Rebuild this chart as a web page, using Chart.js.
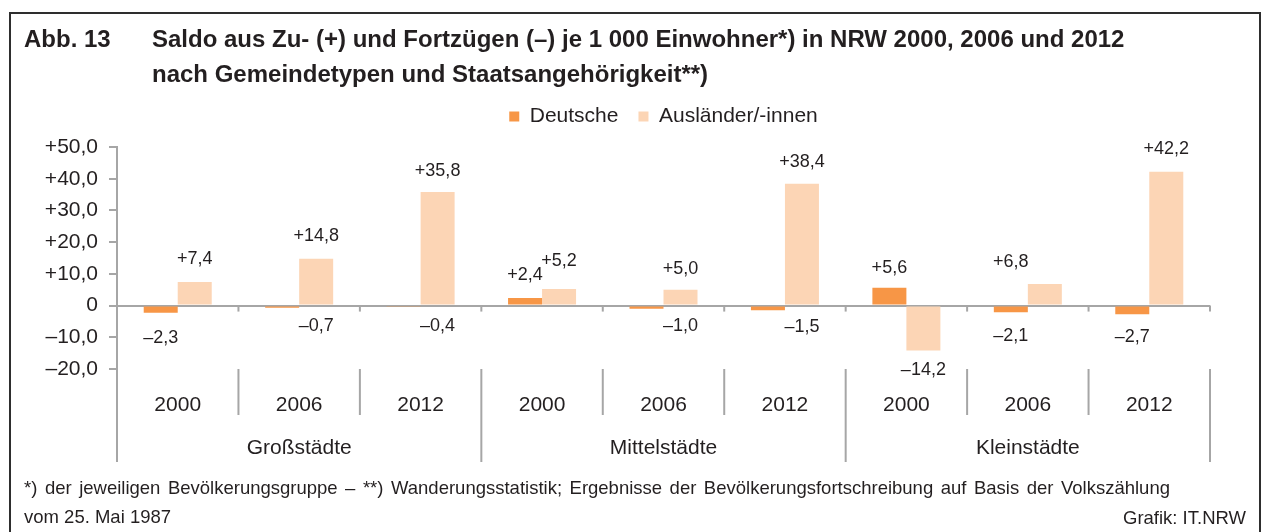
<!DOCTYPE html>
<html>
<head>
<meta charset="utf-8">
<script src="https://cdn.jsdelivr.net/npm/chart.js@4/dist/chart.umd.min.js"></script>
<style>
  html, body { margin:0; padding:0; background:#fff; }
  body { width:1266px; height:532px; position:relative; overflow:hidden; font-family:"Liberation Sans", Arial, sans-serif; color:#231f20; }
  #frame { position:absolute; left:9px; top:12px; width:1248px; height:540px; border:2px solid #2e2e2e; }
  #wrap { position:absolute; left:0; top:0; width:1266px; height:532px; }
  .title { position:absolute; top:21px; font-weight:bold; font-size:24px; line-height:35px; white-space:nowrap; }
  .foot { position:absolute; left:24px; font-size:18.5px; line-height:29px; white-space:nowrap; }
  #foot1 { top:473px; width:1146px; text-align:justify; text-align-last:justify; white-space:normal; }
  #foot2 { top:502px; }
  #src { position:absolute; right:20px; top:506px; font-size:18.5px; line-height:24px; }
</style>
</head>
<body>
<div id="frame"></div>
<div id="wrap"><canvas id="c"></canvas></div>
<div class="title" style="left:24px">Abb. 13</div>
<div class="title" style="left:152px">Saldo aus Zu- (+) und Fortzügen (–) je 1 000 Einwohner*) in NRW 2000, 2006 und 2012<br>nach Gemeindetypen und Staatsangehörigkeit**)</div>
<div class="foot" id="foot1">*) der jeweiligen Bevölkerungsgruppe – **) Wanderungsstatistik; Ergebnisse der Bevölkerungsfortschreibung auf Basis der Volkszählung</div>
<div class="foot" id="foot2">vom 25. Mai 1987</div>
<div id="src">Grafik: IT.NRW</div>
<script>
const categories = ['2000','2006','2012','2000','2006','2012','2000','2006','2012'];
const groups = ['Großstädte','Mittelstädte','Kleinstädte'];
const seriesNames = ['Deutsche','Ausländer/-innen'];
const deutsche = [-2.3, -0.7, -0.4, 2.4, -1.0, -1.5, 5.6, -2.1, -2.7];
const auslaender = [7.4, 14.8, 35.8, 5.2, 5.0, 38.4, -14.2, 6.8, 42.2];
const yTicks = [-20, -10, 0, 10, 20, 30, 40, 50];

const GREY = '#a6a6a6';
const TEXT = '#231f20';
const FONT = '"Liberation Sans", Arial, sans-serif';

function fmt(v, dec) {
  if (v === 0) return '0';
  return (v > 0 ? '+' : '–') + Math.abs(v).toFixed(dec).replace('.', ',');
}

const overlay = {
  id: 'overlay',
  afterLayout(chart, args, opts) {
    const lg = chart.legend;
    if (lg) { lg.top -= opts.legendShift; lg.bottom -= opts.legendShift; }
  },
  afterDatasetsDraw(chart, args, opts) {
    const {ctx, chartArea: ca, scales} = chart;
    const y = scales.y;
    const n = categories.length;
    const step = (ca.right - ca.left) / n;
    const y0 = y.getPixelForValue(0);
    ctx.save();
    ctx.strokeStyle = GREY;
    ctx.lineWidth = 2;
    const line = (x1, y1, x2, y2) => { ctx.beginPath(); ctx.moveTo(x1, y1); ctx.lineTo(x2, y2); ctx.stroke(); };
    for (let i = 1; i <= n; i++) {
      const bx = ca.left + i * step;
      line(bx, y0, bx, y0 + 6);
    }
    for (let i = 0; i <= n; i++) {
      const bx = ca.left + i * step;
      const isGroup = i % 3 === 0;
      line(bx, ca.bottom, bx, ca.bottom + (isGroup ? opts.groupLineLen : opts.yearLineLen));
    }
    // group labels
    ctx.fillStyle = TEXT;
    ctx.font = '21px ' + FONT;
    ctx.textAlign = 'center';
    ctx.textBaseline = 'middle';
    groups.forEach((g, gi) => {
      const cx = ca.left + (gi * 3 + 1.5) * step;
      ctx.fillText(g, cx, ca.bottom + opts.groupLabelOffset);
    });
    // data labels
    ctx.font = '18px ' + FONT;
    chart.data.datasets.forEach((ds, di) => {
      const meta = chart.getDatasetMeta(di);
      const shifts = opts.labelShift[di];
      const dys = opts.labelDy[di];
      meta.data.forEach((bar, i) => {
        const v = ds.data[i];
        const gap = opts.labelGap + dys[i];
        const lx = bar.x + shifts[i] * bar.width;
        const ly = v >= 0 ? bar.y - gap : bar.y + gap;
        ctx.fillText(fmt(v, 1), lx, ly);
      });
    });
    ctx.restore();
  }
};

new Chart(document.getElementById('c'), {
  type: 'bar',
  data: {
    labels: categories,
    datasets: [
      { label: seriesNames[0], data: deutsche, backgroundColor: '#f79646', borderWidth: 0 },
      { label: seriesNames[1], data: auslaender, backgroundColor: '#fcd5b5', borderWidth: 0 }
    ]
  },
  options: {
    responsive: true,
    maintainAspectRatio: false,
    animation: false,
    datasets: { bar: { barPercentage: 1.0, categoryPercentage: 0.56 } },
    layout: { padding: { left: 12, right: 56, top: 96, bottom: 0 } },
    plugins: {
      tooltip: { enabled: false },
      legend: {
        position: 'top',
        fullSize: false,
        labels: {
          boxWidth: 10, boxHeight: 10, padding: 20, color: TEXT,
          font: { family: FONT, size: 21 }
        }
      },
      overlay: {
        legendShift: 10,
        yearLineLen: 46,
        groupLineLen: 93,
        groupLabelOffset: 79,
        labelGap: 22,
        labelShift: [
          [0, 1, 1, 0, 1, 1, 0, 0, 0],
          [0, 0, 0, 0, 0, 0, 0, -1, 0]
        ],
        labelDy: [
          [3, -4, -3, 1, -5, -5, -2, 2, 1],
          [1, 1, -1, 6, -1, 0, -3, 0, 1]
        ]
      }
    },
    scales: {
      x: {
        grid: { display: false, drawTicks: false },
        border: { display: false },
        ticks: { color: TEXT, font: { family: FONT, size: 21 }, padding: 24, maxRotation: 0, autoSkip: false },
        afterFit(s) { s.height = 163; }
      },
      y: {
        min: -20, max: 50,
        afterBuildTicks(s) { s.ticks = yTicks.map(v => ({ value: v })); },
        grid: {
          color: c => (c.tick && c.tick.value === 0) ? GREY : 'rgba(0,0,0,0)',
          tickColor: GREY, tickLength: 8, lineWidth: 2
        },
        border: { display: true, color: GREY, width: 2 },
        ticks: { color: TEXT, font: { family: FONT, size: 21 }, padding: 11, callback: v => fmt(v, 1) },
        afterFit(s) { s.width = 105; }
      }
    }
  },
  plugins: [overlay]
});
</script>
</body>
</html>
